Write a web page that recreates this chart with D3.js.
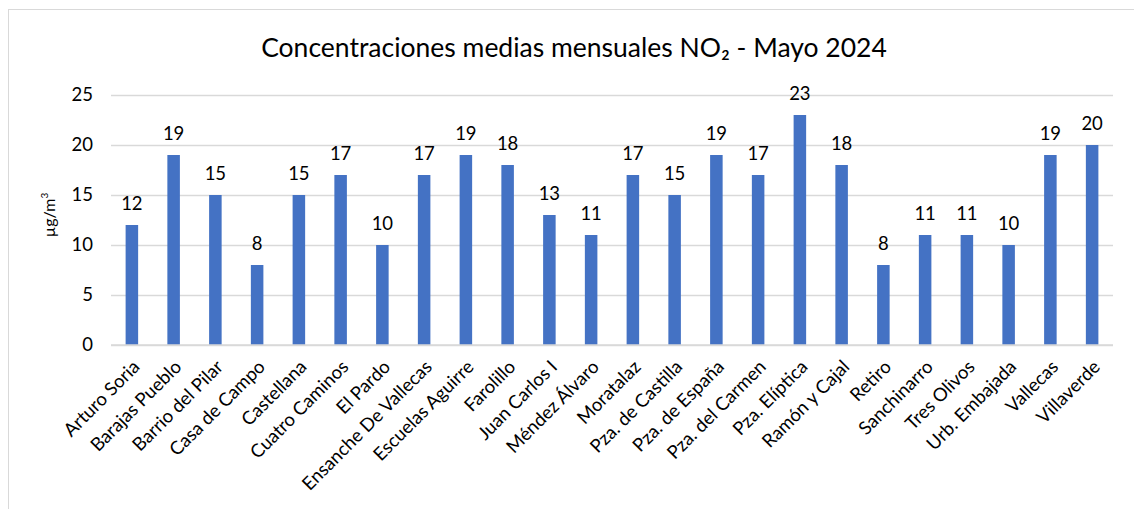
<!DOCTYPE html>
<html lang="es">
<head>
<meta charset="utf-8" />
<title>Concentraciones medias mensuales NO2</title>
<script src="https://cdn.jsdelivr.net/npm/d3@7"></script>
<style>
    body { margin: 0; background: #fff; }
    svg text { font-family: Lato, "Open Sans", sans-serif; fill: #000; }
</style>
</head>
<body>
<div id="chart"></div>
<script>
    let stations = ['Arturo Soria', 'Barajas Pueblo', 'Barrio del Pilar', 'Casa de Campo', 'Castellana',
        'Cuatro Caminos', 'El Pardo', 'Ensanche De Vallecas', 'Escuelas Aguirre', 'Farolillo',
        'Juan Carlos I', 'Méndez Álvaro', 'Moratalaz', 'Pza. de Castilla', 'Pza. de España',
        'Pza. del Carmen', 'Pza. Elíptica', 'Ramón y Cajal', 'Retiro', 'Sanchinarro',
        'Tres Olivos', 'Urb. Embajada', 'Vallecas', 'Villaverde'];
    let no2 = [12, 19, 15, 8, 15, 17, 10, 17, 19, 18, 13, 11, 17, 15, 19, 17, 23, 18, 8, 11, 11, 10, 19, 20];
    let yTicks = [0, 5, 10, 15, 20, 25];

    let W = 1134, H = 509;
    let margin = { top: 95, left: 111, right: 21, bottom: 164 };
    let width = W - margin.left - margin.right,
        height = H - margin.top - margin.bottom;

    let svg = d3.select('#chart').append('svg')
        .attr('width', W)
        .attr('height', H);

    // chart frame
    svg.append('rect')
        .attr('x', 8.5).attr('y', 9.5)
        .attr('width', W).attr('height', H)
        .attr('fill', 'none')
        .attr('stroke', '#d9d9d9');

    svg.append('text')
        .attr('x', 574).attr('y', 57)
        .attr('text-anchor', 'middle')
        .style('font-size', '26.5px')
        .text('Concentraciones medias mensuales NO₂ - Mayo 2024');

    let x = d3.scaleBand()
        .domain(stations)
        .range([0, width])
        .paddingInner(0.7)
        .paddingOuter(0.35);

    let y = d3.scaleLinear()
        .domain([0, 25])
        .range([height, 0]);

    let g = svg.append('g')
        .attr('transform', 'translate(' + margin.left + ',' + margin.top + ')');

    // gridlines + y labels
    let yAxis = d3.axisLeft(y).tickValues(yTicks).tickSize(-width).tickPadding(18);
    let gy = g.append('g').call(yAxis);
    gy.select('.domain').remove();
    gy.selectAll('.tick line').attr('stroke', '#d9d9d9').attr('stroke-width', 1.5);
    gy.selectAll('.tick text').style('font-size', '18.5px');

    g.selectAll('.bar')
        .data(no2)
        .enter().append('rect')
        .attr('class', 'bar')
        .attr('x', (d, i) => x(stations[i]))
        .attr('y', d => y(d))
        .attr('width', x.bandwidth())
        .attr('height', d => height - y(d))
        .attr('fill', '#4472c4');

    g.selectAll('.val')
        .data(no2)
        .enter().append('text')
        .attr('class', 'val')
        .attr('x', (d, i) => x(stations[i]) + x.bandwidth() / 2)
        .attr('y', d => y(d) - 15)
        .attr('text-anchor', 'middle')
        .style('font-size', '18.5px')
        .text(d => d);

    // x axis line
    g.append('line')
        .attr('x1', 0).attr('x2', width)
        .attr('y1', height).attr('y2', height)
        .attr('stroke', '#d9d9d9').attr('stroke-width', 1.5);

    g.selectAll('.cat')
        .data(stations)
        .enter().append('text')
        .attr('class', 'cat')
        .attr('text-anchor', 'end')
        .attr('transform', d => 'translate(' + (x(d) + x.bandwidth() / 2 + 9) + ',' + (height + 23) + ') rotate(-45)')
        .style('font-size', '18.5px')
        .text(d => d);

    svg.append('text')
        .attr('transform', 'translate(55,' + (margin.top + height / 2 - 5) + ') rotate(-90)')
        .attr('text-anchor', 'middle')
        .style('font-size', '16px')
        .html('µg/m<tspan dy="-7" style="font-size:10px">3</tspan>');
</script>
</body>
</html>
